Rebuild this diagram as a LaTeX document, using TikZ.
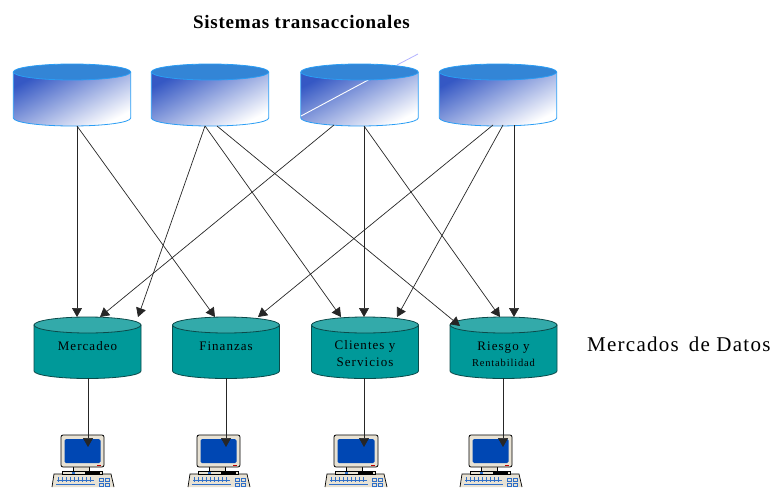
\documentclass[tikz,border=0pt]{standalone}
\usepackage{fontspec}
\setmainfont{Liberation Serif}
\usetikzlibrary{arrows.meta}
\definecolor{srcedge}{HTML}{2A9DF4}
\definecolor{srctop}{HTML}{3385D6}
\definecolor{srcdark}{HTML}{3558C4}
\definecolor{srcmid}{HTML}{A9B6E4}
\definecolor{martfill}{HTML}{009999}
\definecolor{marttop}{HTML}{33AAAA}
\definecolor{martedge}{HTML}{0B4A4A}
\definecolor{beige}{HTML}{E8E2D4}
\definecolor{screenblue}{HTML}{0047B3}
\definecolor{keyblue}{HTML}{2F6FC8}
\tikzset{
  x=1pt,y=-1pt,
  anchorbox/.style={inner sep=0pt,outer sep=0pt,minimum width=#1},
  flow/.style={draw=black!85,line width=0.7pt,-{Triangle[length=9pt,width=10pt]}},
  marttext/.style={font=\fontsize{13}{17}\selectfont\addfontfeature{LetterSpace=8},align=center,text=black},
}
% source cylinder: name, centre x
\newcommand{\sourcecyl}[2]{%
  \begin{scope}[shift={(#2,0)}]
    \shade[left color=srcdark,middle color=srcmid,right color=white,shading angle=28]
      (-58.7,72) -- (-58.7,118) arc[start angle=180,end angle=0,x radius=58.7,y radius=8] -- (58.7,72) -- cycle;
    \draw[srcedge,line width=0.8pt]
      (-58.7,72) -- (-58.7,118) arc[start angle=180,end angle=0,x radius=58.7,y radius=8] -- (58.7,72);
  \end{scope}
  \node[anchorbox=117.4pt,minimum height=62pt] (#1) at (#2,95) {};
}
\newcommand{\sourcetop}[1]{%
  \draw[srcedge,fill=srctop,line width=0.8pt] (#1,72) ellipse[x radius=58.7,y radius=8];
}
% data mart cylinder: name, centre x, text, text y
\newcommand{\martcyl}[4]{%
  \begin{scope}[shift={(#2,0)}]
    \draw[martedge,fill=martfill,line width=0.8pt]
      (-53.5,325) -- (-53.5,371) arc[start angle=180,end angle=0,x radius=53.5,y radius=7.5] -- (53.5,325) -- cycle;
    \draw[martedge,fill=marttop,line width=0.8pt] (0,325) ellipse[x radius=53.5,y radius=8];
  \end{scope}
  \node[anchorbox=107pt,minimum height=61pt] (#1) at (#2,347.5) {};
  \node[marttext] (#1-label) at (#2,#4) {#3};
}
% computer: name, left x of the monitor, monitor width
\newcommand{\computer}[3]{%
  \begin{scope}[shift={(#2,0)}]
    \fill[beige] (-7,474) -- (50,474) -- (53,487) -- (-9,487) -- cycle;
    \draw[black,line width=0.7pt] (-9,487) -- (-7,474) -- (50,474) -- (53,487);
    \foreach \kx in {-3,1,...,30}{
      \draw[keyblue,line width=0.8pt] (\kx,477) -- (\kx,482);
    }
    \draw[keyblue,line width=0.8pt] (-4,480) -- (33,480) (-5,484) -- (34,484);
    \draw[keyblue,line width=0.9pt] (38,478) rectangle (42,481) (44,478) rectangle (48,481)
      (38,483) rectangle (42,486) (44,483) rectangle (48,486);
    \fill[beige] (12,466) rectangle (28,472);
    \draw[black,line width=0.5pt] (12,467) -- (12,471) (28,467) -- (28,471);
    \draw[black,line width=0.5pt,fill=beige] (1,471) rectangle (41,474);
    \fill[black] (24,471) rectangle (39,474);
    \fill[keyblue] (11,472) rectangle (14,474);
    \draw[black,line width=0.8pt,fill=beige,rounded corners=2pt] (0,435) rectangle (#3,467);
    \fill[screenblue,rounded corners=1.5pt] (3.5,439) rectangle (#3-3.5,463);
    \fill[red!75!black] (#3-7,464.5) rectangle (#3-3,465.8);
  \end{scope}
  \node[inner sep=0pt,outer sep=0pt,minimum width=#3 pt,minimum height=32pt] (#1) at (#2+#3/2,451) {};
}
\begin{document}
\begin{tikzpicture}
\useasboundingbox (0,0) rectangle (775,487);
\clip (0,0) rectangle (775,487);

\node[font=\fontsize{19}{22}\selectfont\bfseries\addfontfeature{LetterSpace=4}] (title) at (301.5,22) {Sistemas transaccionales};

\sourcecyl{s1}{72}
\sourcecyl{s2}{210}
\sourcecyl{s3}{359.5}
\sourcecyl{s4}{498}
% stray line over the third cylinder
\draw[white,line width=0.9pt] (301,116) -- (385,71);
\draw[blue!30!white,line width=0.8pt] (397,65) -- (418,54);
\sourcetop{72}
\sourcetop{210}
\sourcetop{359.5}
\sourcetop{498}

\martcyl{m1}{87.5}{Mercadeo}{346.5}
\martcyl{m2}{226}{Finanzas}{346.5}
\martcyl{m3}{365}{Clientes y\\Servicios}{354}
\martcyl{m4}{503.5}{Riesgo y\\[-1pt]{\fontsize{10.5}{12}\selectfont Rentabilidad}}{354.5}

\node[font=\fontsize{21}{24}\selectfont\addfontfeature{LetterSpace=6},anchor=west,inner sep=0pt] (marts) at (587,344) {Mercados\, de Datos};

\computer{c1}{61}{43}
\computer{c2}{197}{43}
\computer{c3}{334}{44}
\computer{c4}{469}{43}

\draw[flow] ([xshift=5pt]s1.south) -- ([xshift=-10.5pt]m1.north);
\draw[flow] ([xshift=5pt]s1.south) -- ([xshift=-11pt]m2.north);
\draw[flow] ([xshift=-5pt]s2.south) -- ([xshift=50.5pt]m1.north);
\draw[flow] ([xshift=-5pt]s2.south) -- ([xshift=-24pt]m3.north);
\draw[flow] ([xshift=7pt]s2.south) -- ([xshift=-43.5pt,yshift=-9pt]m4.north);
\draw[flow] ([xshift=-25.5pt,yshift=1pt]s3.south) -- ([xshift=12.5pt]m1.north);
\draw[flow] ([xshift=4.5pt]s3.south) -- ([xshift=-1pt]m3.north);
\draw[flow] ([xshift=4.5pt]s3.south) -- ([xshift=-3.5pt]m4.north);
\draw[flow] ([xshift=-5pt,yshift=1pt]s4.south) -- ([xshift=32pt]m2.north);
\draw[flow] ([xshift=5pt,yshift=1pt]s4.south) -- ([xshift=32pt]m3.north);
\draw[flow] ([xshift=16pt,yshift=1pt]s4.south) -- ([xshift=10.5pt]m4.north);

\draw[flow] ([xshift=.5pt]m1.south) -- ([xshift=5.5pt,yshift=-12pt]c1.north);
\draw[flow] (m2.south) -- ([xshift=7.5pt,yshift=-12pt]c2.north);
\draw[flow] ([xshift=-1pt]m3.south) -- ([xshift=8pt,yshift=-12pt]c3.north);
\draw[flow] ([xshift=-.5pt]m4.south) -- ([xshift=12.5pt,yshift=-12pt]c4.north);
\end{tikzpicture}
\end{document}
